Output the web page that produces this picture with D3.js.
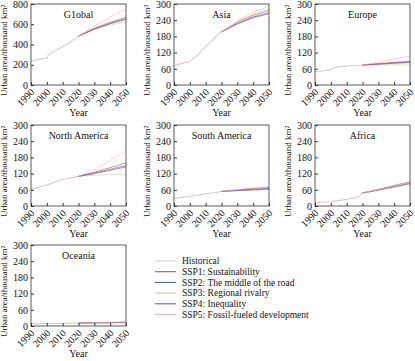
<!DOCTYPE html>
<html>
<head>
<meta charset="utf-8">
<script src="https://cdn.jsdelivr.net/npm/d3@7/dist/d3.min.js"></script>
<style>
  html, body { margin: 0; padding: 0; background: #fff; }
  svg { display: block; }
  text { font-family: "Liberation Serif", "Times New Roman", serif; fill: #111; }
</style>
</head>
<body>
<svg id="chart" width="415" height="361"></svg>
<script>
// ---- data ----
const histYears = [1990, 1995, 2000, 2001, 2005, 2010, 2015, 2018, 2020];
const sspYears = [2020, 2030, 2040, 2050];
const seriesNames = ["Historical", "SSP1: Sustainability", "SSP2: The middle of the road",
  "SSP3: Regional rivalry", "SSP4: Inequality", "SSP5: Fossil-fueled development"];
const seriesColors = ["#dcc8d2", "#d0504f", "#4f63b8", "#c6d49a", "#7e5a8e", "#f1b3c4"];
const regions = ["G1obal", "Asia", "Europe", "North America", "South America", "Africa", "Oceania"];
const yMaxes = [800, 300, 300, 300, 300, 300, 300];
const yTickSets = [[0, 200, 400, 600, 800], [0, 60, 120, 180, 240, 300]];
const xTicks = [1990, 2000, 2010, 2020, 2030, 2040, 2050];

const histGlobal = [230, 255, 265, 300, 335, 378, 425, 460, 483];
const histAsia = [72, 80, 86, 92, 112, 142, 170, 188, 197];
const histEurope = [49, 52, 57, 62, 68, 70, 72, 73, 74];
const histNorthAmerica = [62, 70, 78, 80, 88, 98, 104, 108, 110];
const histSouthAmerica = [28, 32, 36, 37, 40, 45, 49, 52, 54];
const histAfrica = [12, 14, 16, 17, 20, 25, 30, 35, 48];
const histOceania = [8, 8.5, 9, 9, 9.5, 10, 10.5, 11, 11];

// SSP1..SSP5 per region
const sspGlobal = [[483, 560, 620, 668], [483, 555, 610, 655], [483, 545, 592, 625], [483, 552, 605, 648], [483, 580, 670, 750]];
const sspAsia = [[197, 232, 258, 276], [197, 228, 252, 268], [197, 238, 270, 292], [197, 226, 249, 264], [197, 234, 263, 283]];
const sspEurope = [[74, 79, 84, 88], [74, 78, 82, 86], [74, 74, 74, 74], [74, 77, 80, 83], [74, 85, 96, 107]];
const sspNorthAmerica = [[110, 125, 142, 160], [110, 120, 132, 145], [110, 114, 116, 116], [110, 122, 136, 150], [110, 135, 168, 204]];
const sspSouthAmerica = [[54, 60, 65, 69], [54, 58, 62, 65], [54, 57, 59, 61], [54, 57, 60, 62], [54, 61, 67, 72]];
const sspAfrica = [[48, 62, 76, 90], [48, 60, 73, 86], [48, 58, 69, 80], [48, 59, 71, 83], [48, 61, 75, 88]];
const sspOceania = [[11, 12, 13, 14], [11, 12, 12.5, 13], [11, 11.5, 12, 12], [11, 12, 12.5, 13], [11, 12.5, 14, 15]];

const histAll = [histGlobal, histAsia, histEurope, histNorthAmerica, histSouthAmerica, histAfrica, histOceania];
const sspAll = [sspGlobal, sspAsia, sspEurope, sspNorthAmerica, sspSouthAmerica, sspAfrica, sspOceania];

// ---- layout ----
const colLeft = [31, 174, 315];
const rowTop = [4, 125, 245];
const pw = 95, ph = 81;

const svg = d3.select("#chart");

regions.forEach((name, i) => {
  const x0 = colLeft[i % 3], y0 = rowTop[Math.floor(i / 3)];
  const g = svg.append("g").attr("transform", `translate(${x0},${y0})`);
  const x = d3.scaleLinear().domain([1990, 2050]).range([0, pw]);
  const y = d3.scaleLinear().domain([0, yMaxes[i]]).range([ph, 0]);
  const yt = i === 0 ? yTickSets[0] : yTickSets[1];

  const line = d3.line().x(d => x(d[0])).y(d => y(d[1]));

  // historical
  g.append("path")
    .datum(histYears.map((yr, k) => [yr, histAll[i][k]]))
    .attr("d", line).attr("fill", "none")
    .attr("stroke", seriesColors[0]).attr("stroke-width", 1.1);

  // scenarios (SSP3 first so the rest sit on top)
  [2, 3, 1, 0, 4].forEach(s => {
    g.append("path")
      .datum(sspYears.map((yr, k) => [yr, sspAll[i][s][k]]))
      .attr("d", line).attr("fill", "none")
      .attr("stroke", seriesColors[s + 1]).attr("stroke-width", 1)
      .attr("stroke-opacity", 0.65);
  });

  // frame
  g.append("rect").attr("width", pw).attr("height", ph)
    .attr("fill", "none").attr("stroke", "#333").attr("stroke-width", 0.8);

  // x axis
  const xa = g.append("g").attr("transform", `translate(0,${ph})`)
    .call(d3.axisBottom(x).tickValues(xTicks).tickFormat(d3.format("d")).tickSizeInner(-3).tickSizeOuter(0));
  xa.select(".domain").remove();
  xa.selectAll("line").attr("stroke", "#333");
  xa.selectAll("text")
    .attr("font-size", 10)
    .attr("text-anchor", "end")
    .attr("dy", null)
    .attr("transform", "translate(2,6) rotate(-45)")
    .attr("y", 0).attr("x", 0)
    .attr("dominant-baseline", "middle");

  // y axis
  const ya = g.append("g")
    .call(d3.axisLeft(y).tickValues(yt).tickSizeInner(-3).tickSizeOuter(0).tickPadding(3));
  ya.select(".domain").remove();
  ya.selectAll("line").attr("stroke", "#333");
  ya.selectAll("text").attr("font-size", 10);

  // panel title
  g.append("text").attr("x", pw / 2).attr("y", 14)
    .attr("text-anchor", "middle").attr("font-size", 10).text(name);

  // axis titles
  g.append("text").attr("x", pw / 2).attr("y", ph + 31)
    .attr("text-anchor", "middle").attr("font-size", 10).text("Year");
  g.append("text")
    .attr("transform", `translate(-24,${ph / 2 + 6}) rotate(-90)`)
    .attr("text-anchor", "middle").attr("font-size", 9)
    .text("Urban area/thousand km²");
});

// legend
const lg = svg.append("g").attr("transform", "translate(155,261)");
seriesNames.forEach((n, k) => {
  const row = lg.append("g").attr("transform", `translate(0,${k * 10.7})`);
  row.append("line").attr("x1", 0).attr("x2", 21).attr("y1", 0).attr("y2", 0)
    .attr("stroke", seriesColors[k]).attr("stroke-width", 1.1);
  row.append("text").attr("x", 27).attr("y", 0).attr("dy", "0.33em")
    .attr("font-size", 9.5).text(n);
});
</script>
</body>
</html>
